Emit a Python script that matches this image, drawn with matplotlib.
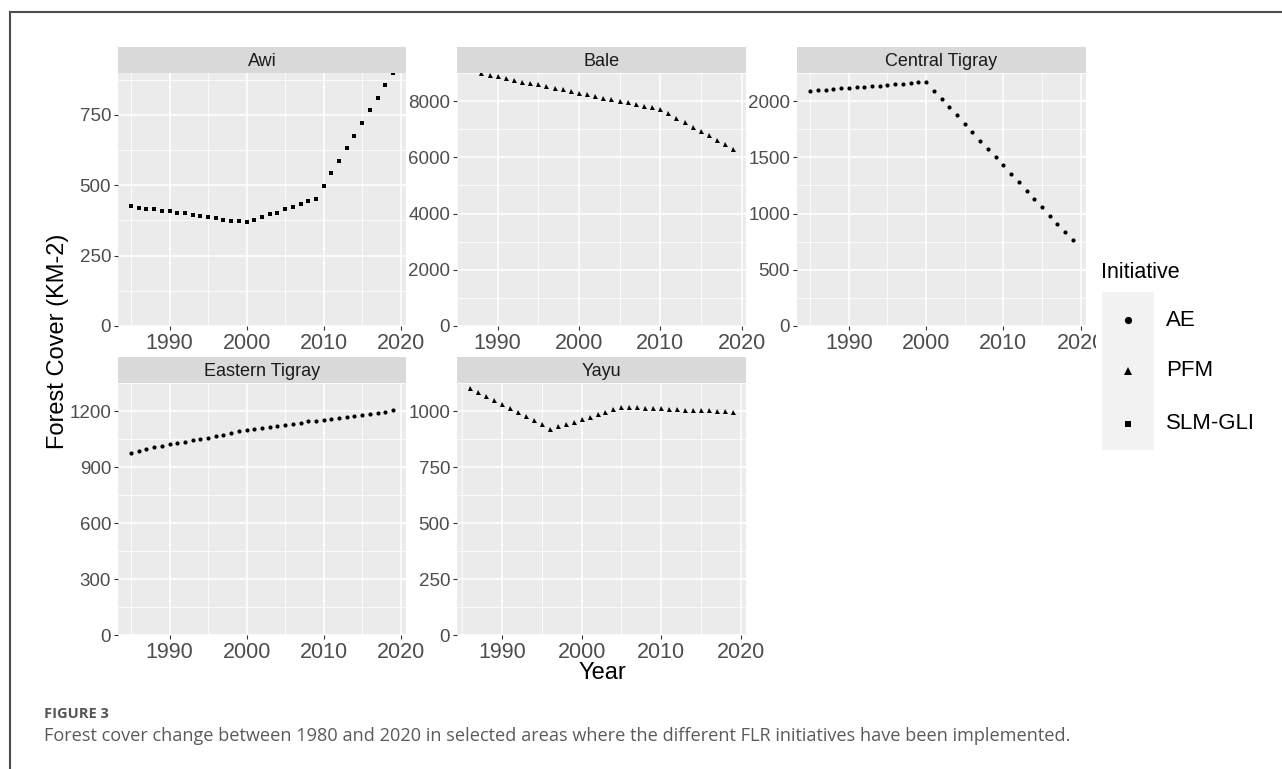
import numpy as np
import matplotlib
matplotlib.use("Agg")
from matplotlib import pyplot as plt
from matplotlib.lines import Line2D
from matplotlib.patches import Rectangle

plt.rcParams['font.family'] = ['Liberation Sans', 'DejaVu Sans']

W, H = 1282, 769

# data, one value per year
awi_years = list(range(1985, 2020))
awi_vals = [426, 420, 415, 414, 410, 407, 403, 400, 394, 392, 386, 383, 377, 374, 372, 368,
            375, 387, 399, 403, 414, 424, 433, 443, 452,
            498, 542, 586, 632, 675, 720, 767, 811, 855, 899]

bale_years = list(range(1988, 2020))
bale_vals = [8985, 8938, 8879, 8819, 8748, 8689, 8641, 8594, 8523, 8463, 8416, 8345, 8297,
             8250, 8178, 8119, 8060, 8000, 7953, 7894, 7834, 7787, 7716,
             7561, 7407, 7253, 7086, 6932, 6778, 6623, 6469, 6303]

ct_years = list(range(1985, 2020))
ct_vals = [2092, 2097, 2103, 2109, 2114, 2120, 2123, 2129, 2134, 2137, 2143, 2149, 2154, 2160,
           2166, 2172, 2092, 2020, 1946, 1874, 1797, 1725, 1648, 1576, 1502, 1428,
           1353, 1279, 1204, 1130, 1059, 981, 910, 833, 761]

et_years = list(range(1985, 2020))
et_vals = [975, 987, 998, 1006, 1014, 1022, 1028, 1036, 1042, 1050, 1058, 1066, 1074, 1084,
           1092, 1100, 1105, 1110, 1114, 1119, 1125, 1132, 1138, 1144, 1149, 1154,
           1159, 1164, 1170, 1175, 1180, 1184, 1191, 1197, 1203]

yayu_years = list(range(1986, 2020))
yayu_vals = [1103, 1086, 1068, 1051, 1032, 1013, 994, 977, 959, 940, 920, 931, 942, 952, 964,
             975, 985, 997, 1009, 1019, 1018, 1016, 1015, 1013, 1012, 1010, 1009, 1006,
             1006, 1004, 1003, 1001, 1000, 997]

regions = ["Awi", "Bale", "Central Tigray", "Eastern Tigray", "Yayu"]
initiative = ["SLM-GLI", "PFM", "AE", "AE", "PFM"]
years = [awi_years, bale_years, ct_years, et_years, yayu_years]
values = [awi_vals, bale_vals, ct_vals, et_vals, yayu_vals]
yticks = [[0, 250, 500, 750], [0, 2000, 4000, 6000, 8000], [0, 500, 1000, 1500, 2000],
          [0, 300, 600, 900, 1200], [0, 250, 500, 750, 1000]]

legend_labels = ["AE", "PFM", "SLM-GLI"]
shapes = {"AE": "o", "PFM": "^", "SLM-GLI": "s"}
msize = {"AE": 3.0, "PFM": 3.6, "SLM-GLI": 2.9}

# panel boxes in pixels (left, top, right, bottom)
cols = [(118, 406), (457, 746), (797, 1086)]
rows = [(73, 326), (383, 635)]
strip_h = 26


def fig_box(l, t, r, b):
    return [l / W, 1 - b / H, (r - l) / W, (b - t) / H]


fig = plt.figure(figsize=(W / 100, H / 100), dpi=100)
fig.patch.set_facecolor("white")

for i, name in enumerate(regions):
    r, c = divmod(i, 3)
    l, rr = cols[c]
    t, b = rows[r]
    ax = fig.add_axes(fig_box(l, t, rr, b))
    ax.set_facecolor("#EBEBEB")
    x = years[i]
    y = values[i]
    ax.plot(x, y, linestyle="none", marker=shapes[initiative[i]], ms=msize[initiative[i]],
            mew=0, color="black", zorder=3)
    span = x[-1] - x[0]
    ax.set_xlim(x[0] - 0.05 * span, x[-1] + 0.05 * span)
    ax.set_ylim(0, max(y))
    ax.set_xticks([1990, 2000, 2010, 2020])
    ax.set_xticks([1985, 1995, 2005, 2015], minor=True)
    yt = yticks[i]
    ax.set_yticks(yt)
    ax.set_yticks([v + (yt[1] - yt[0]) / 2 for v in yt], minor=True)
    ax.grid(which="major", color="white", lw=1.1)
    ax.grid(which="minor", color="white", lw=0.55)
    ax.set_axisbelow(True)
    for s in ax.spines.values():
        s.set_visible(False)
    ax.tick_params(which="major", length=3, width=0.8, color="#333333", pad=2)
    ax.tick_params(which="minor", length=0)
    ax.tick_params(axis="x", labelsize=15.5, labelcolor="#4D4D4D")
    ax.tick_params(axis="y", labelsize=13.5, labelcolor="#4D4D4D")

    sax = fig.add_axes(fig_box(l, t - strip_h, rr, t))
    sax.set_facecolor("#D9D9D9")
    sax.set_xticks([])
    sax.set_yticks([])
    for s in sax.spines.values():
        s.set_visible(False)
    sax.text(0.5, 0.45, name, ha="center", va="center", fontsize=13, color="#1A1A1A",
             transform=sax.transAxes)

# axis titles
fig.text(602 / W, 1 - 673 / H, "Year", ha="center", va="center", fontsize=17)
fig.text(58 / W, 1 - 341 / H, "Forest Cover (KM-2)", ha="center", va="center",
         rotation=90, fontsize=17)

# legend drawn by hand
fig.patches.append(Rectangle((1096 / W, 1 - 352 / H), 5.5 / W, 22 / H, transform=fig.transFigure,
                             facecolor="white", edgecolor="none", zorder=1))
fig.text(1101 / W, 1 - 278 / H, "Initiative", ha="left", va="baseline", fontsize=15.5)
fig.patches.append(Rectangle((1101.7 / W, 1 - 450 / H), 52 / W, 158 / H,
                             transform=fig.transFigure, facecolor="#F2F2F2",
                             edgecolor="none", zorder=2))
key_y = [320, 371, 424]
key_ms = {"AE": 5.2, "PFM": 6.0, "SLM-GLI": 4.8}
for lab, ky in zip(legend_labels, key_y):
    fig.lines.append(Line2D([1128 / W], [1 - ky / H], marker=shapes[lab], ms=key_ms[lab],
                            mew=0, color="black", linestyle="none",
                            transform=fig.transFigure, zorder=3))
    fig.text(1166 / W, 1 - ky / H, lab, ha="left", va="center", fontsize=16)

# frame and caption
fig.lines.append(Line2D([9.5 / W, 1], [1 - 12 / H, 1 - 12 / H], color="#4D4D4D", lw=1.5,
                        transform=fig.transFigure))
fig.lines.append(Line2D([9.5 / W, 9.5 / W], [0, 1 - 12 / H], color="#4D4D4D", lw=1.5,
                        transform=fig.transFigure))
fig.text(44 / W, 1 - 718 / H, "FIGURE 3", ha="left", va="baseline", fontsize=10.5,
         fontweight="bold", color="#555555", family="Open Sans")
fig.text(44 / W, 1 - 741 / H,
         "Forest cover change between 1980 and 2020 in selected areas where the different "
         "FLR initiatives have been implemented.",
         ha="left", va="baseline", fontsize=13.1, color="#5A5A5A", family="Open Sans")

fig.savefig("out.png", dpi=100)
